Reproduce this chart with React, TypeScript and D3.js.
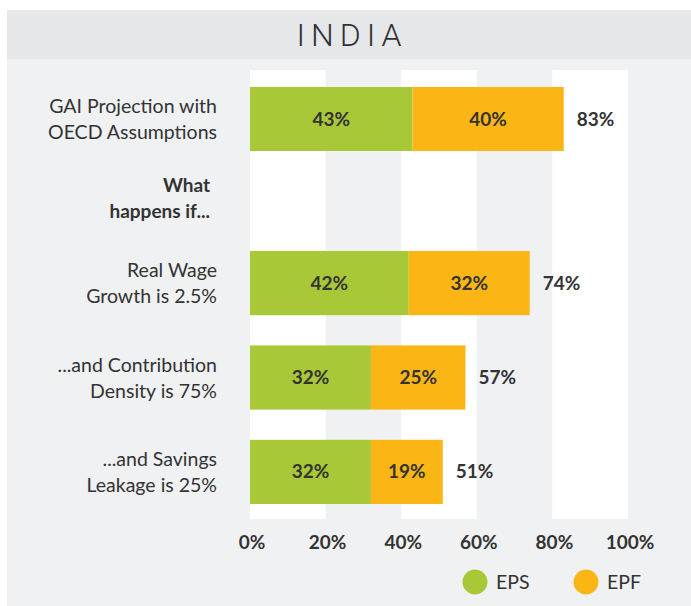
import React from "react";
import * as d3 from "d3";

const title = "INDIA";
const baseCategory = "GAI Projection with\nOECD Assumptions";
const scenarioCategories = [
  "Real Wage\nGrowth is 2.5%",
  "...and Contribution\nDensity is 75%",
  "...and Savings\nLeakage is 25%",
];
const headerLabel = ["What", "happens if..."];
const categories = [baseCategory, ...scenarioCategories];
const seriesNames = ["EPS", "EPF"];
const epsValues = [43, 42, 32, 32];
const epfValues = [40, 32, 25, 19];
const tickValues = [0, 20, 40, 60, 80, 100];

const W = 691;
const H = 606;
const GREEN = "#a9c838";
const ORANGE = "#fbb616";
const TEXT = "#333333";
const FONT = "Lato, 'Open Sans', sans-serif";

export default function App() {
  const x = d3.scaleLinear().domain([0, 100]).range([250, 628]);
  const yTop = d3.scaleBand<string>().domain([baseCategory]).range([87, 151]);
  const yBottom = d3
    .scaleBand<string>()
    .domain(scenarioCategories)
    .range([251, 504])
    .paddingInner(0.32);
  const yPos = (c: string) => (c === baseCategory ? yTop(c)! : yBottom(c)!);
  const bw = (c: string) => (c === baseCategory ? yTop.bandwidth() : yBottom.bandwidth());

  const rows = categories.map((c, i) => ({
    cat: c,
    eps: epsValues[i],
    epf: epfValues[i],
    total: epsValues[i] + epfValues[i],
  }));
  const stack = d3.stack<any>().keys(["eps", "epf"])(rows);
  const colors = d3.scaleOrdinal<string>().domain(["eps", "epf"]).range([GREEN, ORANGE]);

  const plotTop = 70;
  const plotBottom = 519;
  const bandEdges = d3.range(0, 100, 40);
  const headerY = (yTop(baseCategory)! + yTop.bandwidth() + yBottom(scenarioCategories[0])!) / 2;

  return (
    <svg width={W} height={H} style={{ display: "block", position: "absolute", left: 0, top: 0 }}>
      <rect x={7} y={10} width={W - 7} height={H - 10} fill="#f0f1f3" />
      <rect x={7} y={10} width={W - 7} height={49} fill="#e6e7e9" />
      <text
        x={352}
        y={46}
        textAnchor="middle"
        fontFamily="Roboto, sans-serif"
        fontWeight={300}
        fontSize={32}
        letterSpacing={6}
        fill={TEXT}
      >
        {title}
      </text>

      {bandEdges.map((v) => (
        <rect key={v} x={x(v)} y={plotTop} width={x(v + 20) - x(v)} height={plotBottom - plotTop} fill="#ffffff" />
      ))}

      {stack.map((layer) => (
        <g key={layer.key} fill={colors(layer.key)}>
          {layer.map((d: any) => (
            <rect
              key={d.data.cat}
              x={x(d[0])}
              y={yPos(d.data.cat)}
              width={x(d[1]) - x(d[0])}
              height={bw(d.data.cat)}
            />
          ))}
        </g>
      ))}

      {stack.map((layer) =>
        layer.map((d: any) => (
          <text
            key={layer.key + d.data.cat}
            x={(x(d[0]) + x(d[1])) / 2}
            y={yPos(d.data.cat) + bw(d.data.cat) / 2 + 6.5}
            textAnchor="middle"
            fontFamily={FONT}
            fontWeight={700}
            fontSize={19}
            fill={TEXT}
          >
            {d.data[layer.key]}%
          </text>
        ))
      )}

      {rows.map((r) => (
        <text
          key={"t" + r.cat}
          x={x(r.total) + 13}
          y={yPos(r.cat) + bw(r.cat) / 2 + 6.5}
          fontFamily={FONT}
          fontWeight={700}
          fontSize={19}
          fill={TEXT}
        >
          {r.total}%
        </text>
      ))}

      {categories.map((c) => {
        const lines = c.split("\n");
        const cy = yPos(c) + bw(c) / 2;
        return (
          <text key={"l" + c} textAnchor="end" fontFamily={FONT} fontSize={19.5} fill={TEXT}>
            {lines.map((ln, i) => (
              <tspan key={i} x={217} y={cy - 6 + i * 26}>
                {ln}
              </tspan>
            ))}
          </text>
        );
      })}

      <text textAnchor="end" fontFamily={FONT} fontWeight={700} fontSize={19} fill={TEXT}>
        {headerLabel.map((ln, i) => (
          <tspan key={i} x={210} y={headerY - 9 + i * 26}>
            {ln}
          </tspan>
        ))}
      </text>

      {tickValues.map((t) => (
        <text
          key={"x" + t}
          x={x(t) + 2}
          y={549}
          textAnchor="middle"
          fontFamily={FONT}
          fontWeight={700}
          fontSize={19}
          fill={TEXT}
        >
          {t}%
        </text>
      ))}

      {seriesNames.map((s, i) => {
        const cx = 475 + i * 111;
        return (
          <g key={s}>
            <circle cx={cx} cy={582} r={12.5} fill={i === 0 ? GREEN : ORANGE} />
            <text x={cx + 21} y={589} fontFamily={FONT} fontSize={19.5} fill={TEXT}>
              {s}
            </text>
          </g>
        );
      })}
    </svg>
  );
}
